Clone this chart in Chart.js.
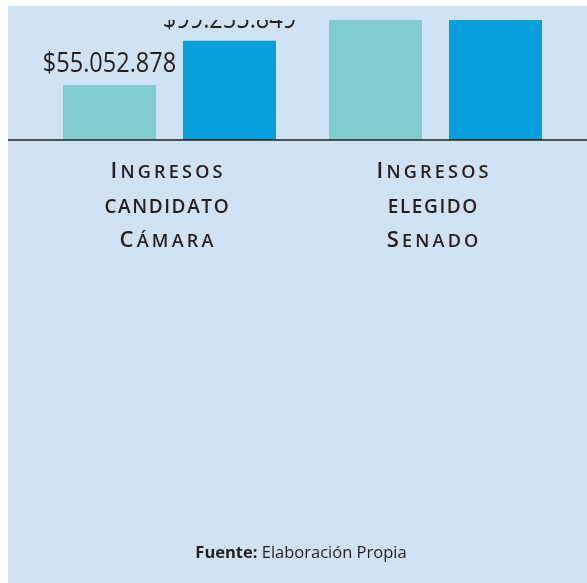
<!DOCTYPE html>
<html>
<head>
    <meta charset="utf-8">
    <title>Ingresos candidato / elegido</title>
    <script src="https://cdn.jsdelivr.net/npm/chart.js@4.4.1/dist/chart.umd.min.js"></script>
    <style>
        html, body { margin: 0; padding: 0; background: #ffffff; }
        #panel { position: absolute; left: 8px; top: 6px; width: 579px; height: 577px; background: #cfe3f4; }
    </style>
</head>
<body>

<div id="panel">
    <canvas id="ingresosChart" width="579" height="577"></canvas>
</div>

<script>
    // categories (one line per entry)
    var categories = [
        ['Ingresos', 'candidato', 'Cámara'],
        ['Ingresos', 'elegido', 'Senado']
    ];
    // two bars per category, values in pesos (second group runs off the top of the crop)
    var serieA = [55052878, 182000000];
    var serieB = [99255849, 236000000];
    var fuenteBold = 'Fuente:';
    var fuenteText = ' Elaboración Propia';

    var ink = '#231f20';

    function pesos(v) {
        return '$' + String(v).replace(/\B(?=(\d{3})+(?!\d))/g, '.');
    }

    // words drawn in small caps: capitals big, lowercase as smaller capitals
    function smallCaps(ctx, text, cx, y, size, ratio, ls) {
        var parts = [];
        var total = 0;
        for (var ch of text) {
            var big = ch !== ch.toLowerCase();
            var s = big ? size : size * ratio;
            ctx.font = '600 ' + s + 'px "Open Sans"';
            var w = ctx.measureText(ch.toUpperCase()).width;
            parts.push({ c: ch.toUpperCase(), s: s, w: w });
            total += w + ls;
        }
        total -= ls;
        var x = cx - total / 2;
        parts.forEach(function (p) {
            ctx.font = '600 ' + p.s + 'px "Open Sans"';
            ctx.fillText(p.c, x, y);
            x += p.w + ls;
        });
    }

    var decor = {
        id: 'decor',
        afterDatasetsDraw: function (chart) {
            var ctx = chart.ctx;
            var area = chart.chartArea;
            var y = chart.scales.y;
            var x = chart.scales.x;
            var zero = y.getPixelForValue(0);

            ctx.save();
            ctx.fillStyle = ink;
            ctx.textBaseline = 'alphabetic';

            // value labels above the bars, clipped to the plot like the bars
            ctx.save();
            ctx.beginPath();
            ctx.rect(0, area.top, chart.width, area.bottom - area.top);
            ctx.clip();
            chart.data.datasets.forEach(function (ds, di) {
                var meta = chart.getDatasetMeta(di);
                meta.data.forEach(function (bar, i) {
                    var txt = pesos(ds.data[i]);
                    ctx.font = '400 28px "Open Sans"';
                    var w = ctx.measureText(txt).width * 0.84;
                    ctx.save();
                    ctx.translate(bar.x - w / 2, bar.y - 13);
                    ctx.scale(0.84, 1);
                    ctx.textAlign = 'left';
                    ctx.fillText(txt, 0, 0);
                    ctx.restore();
                });
            });
            ctx.restore();

            // base line across the whole panel
            ctx.strokeStyle = ink;
            ctx.lineWidth = 1.6;
            ctx.beginPath();
            ctx.moveTo(0, zero);
            ctx.lineTo(chart.width, zero);
            ctx.stroke();

            // category names
            ctx.textAlign = 'left';
            categories.forEach(function (lines, i) {
                var cx = x.getPixelForValue(i) - 3;
                smallCaps(ctx, lines[0], cx, zero + 38, 22, 0.82, 3.2);
                smallCaps(ctx, lines[1], cx, zero + 72.5, 19, 1, 1.6);
                smallCaps(ctx, lines[2], cx, zero + 107, 22, 0.82, 3.2);
            });

            // source note
            ctx.font = '700 16.5px "Open Sans"';
            var wb = ctx.measureText(fuenteBold).width;
            ctx.font = '400 16.5px "Open Sans"';
            var wn = ctx.measureText(fuenteText).width;
            var sx = 293 - (wb + wn) / 2;
            ctx.font = '700 16.5px "Open Sans"';
            ctx.fillText(fuenteBold, sx, 552);
            ctx.font = '400 16.5px "Open Sans"';
            ctx.fillText(fuenteText, sx + wb, 552);
            ctx.restore();
        }
    };

    var ctx = document.getElementById('ingresosChart').getContext('2d');
    var chart = new Chart(ctx, {
        type: 'bar',
        data: {
            labels: categories.map(function (l) { return l.join(' '); }),
            datasets: [{
                label: 'A',
                backgroundColor: '#80cecf',
                data: serieA,
                categoryPercentage: 0.902,
                barPercentage: 0.775
            }, {
                label: 'B',
                backgroundColor: '#069edc',
                data: serieB,
                categoryPercentage: 0.902,
                barPercentage: 0.775
            }]
        },
        options: {
            responsive: false,
            animation: false,
            layout: { padding: { left: 28.5, right: 18.5, top: 14, bottom: 443 } },
            plugins: { legend: { display: false }, tooltip: { enabled: false } },
            scales: {
                x: { display: false },
                y: { display: false, min: 0, max: 120100000 }
            }
        },
        plugins: [decor]
    });
</script>
</body>
</html>
